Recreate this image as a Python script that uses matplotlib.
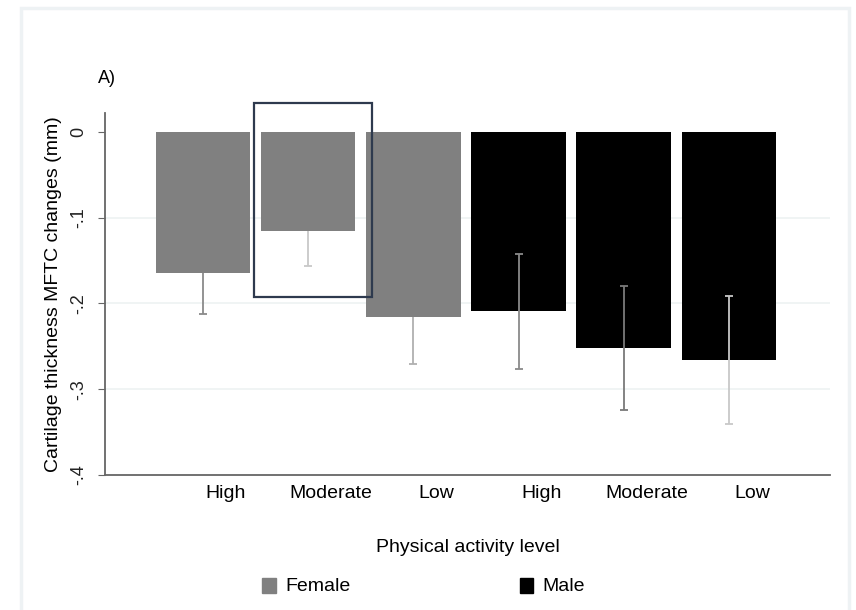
import matplotlib.pyplot as plt
import matplotlib.patches as mpatches
import numpy as np

plt.rcParams['font.family'] = ['Liberation Sans', 'DejaVu Sans']

# Data
levels = ['High', 'Moderate', 'Low', 'High', 'Moderate', 'Low']
groups = ['Female', 'Female', 'Female', 'Male', 'Male', 'Male']
changes = [-0.164, -0.116, -0.216, -0.209, -0.252, -0.266]
errors = [0.048, 0.040, 0.055, 0.067, 0.072, 0.075]

colors = {'Female': '#808080', 'Male': '#000000'}
ecolors = ['#8a8a8a', '#c8c8c8', '#b0b0b0', '#8a8a8a', '#7a7a7a', '#c8c8c8']

fig = plt.figure(figsize=(8.56, 6.10), dpi=100)
ax = fig.add_axes([0.1227, 0.2213, 0.8469, 0.5935])

x = np.arange(len(levels))
ax.bar(x, changes, width=0.9, color=[colors[g] for g in groups], zorder=2)
for i in range(len(x)):
    # female error bars sit behind their bars, male ones on top
    z = 1.5 if groups[i] == 'Female' else 3
    ax.errorbar(x[i], changes[i], yerr=errors[i], fmt='none', ecolor=ecolors[i],
                elinewidth=1.3, capsize=3, capthick=1.3, zorder=z)

ax.set_xlim(-0.93, 5.96)
ax.set_ylim(-0.4, 0.022)
ax.set_yticks([0, -0.1, -0.2, -0.3, -0.4])
ax.set_yticklabels(['0', '-.1', '-.2', '-.3', '-.4'], rotation=90, va='center', fontsize=13)
ax.set_xticks(x + 0.22)
ax.set_xticklabels(levels, fontsize=14)
ax.tick_params(axis='x', length=0, pad=7)
ax.tick_params(axis='y', length=5, color='#666666', pad=8)
for t in ax.get_yticklabels():
    t.set_color('#222222')

for y in [-0.1, -0.2, -0.3]:
    ax.axhline(y, color='#eef2f2', lw=1.2, zorder=1)

for s in ['top', 'right']:
    ax.spines[s].set_visible(False)
ax.spines['left'].set_color('#666666')
ax.spines['bottom'].set_color('#666666')
ax.spines['left'].set_linewidth(1.3)
ax.spines['bottom'].set_linewidth(1.3)

ax.set_ylabel('Cartilage thickness MFTC changes (mm)', fontsize=14, labelpad=6)
ax.set_xlabel('Physical activity level', fontsize=14, labelpad=27)

# highlight box around the female moderate bar
ax.add_patch(mpatches.Rectangle((0.486, -0.193), 1.124, 0.227, fill=False,
                                edgecolor='#2e3a4e', lw=1.6, clip_on=False, zorder=4))

fig.text(0.115, 0.872, 'A)', fontsize=13, ha='left', va='center')

# legend
fig.text(0.333, 0.038, 'Female', fontsize=14, va='center')
fig.text(0.634, 0.038, 'Male', fontsize=14, va='center')
fig.patches.append(mpatches.Rectangle((0.306, 0.028), 0.016, 0.024, color=colors['Female'],
                                      transform=fig.transFigure, figure=fig))
fig.patches.append(mpatches.Rectangle((0.607, 0.028), 0.016, 0.024, color=colors['Male'],
                                      transform=fig.transFigure, figure=fig))

# faint outer frame
fig.patches.append(mpatches.Rectangle((0.025, -0.01), 0.967, 0.997, fill=False,
                                      edgecolor='#eef2f4', lw=2.5,
                                      transform=fig.transFigure, figure=fig))

fig.savefig('out.png', dpi=100)
